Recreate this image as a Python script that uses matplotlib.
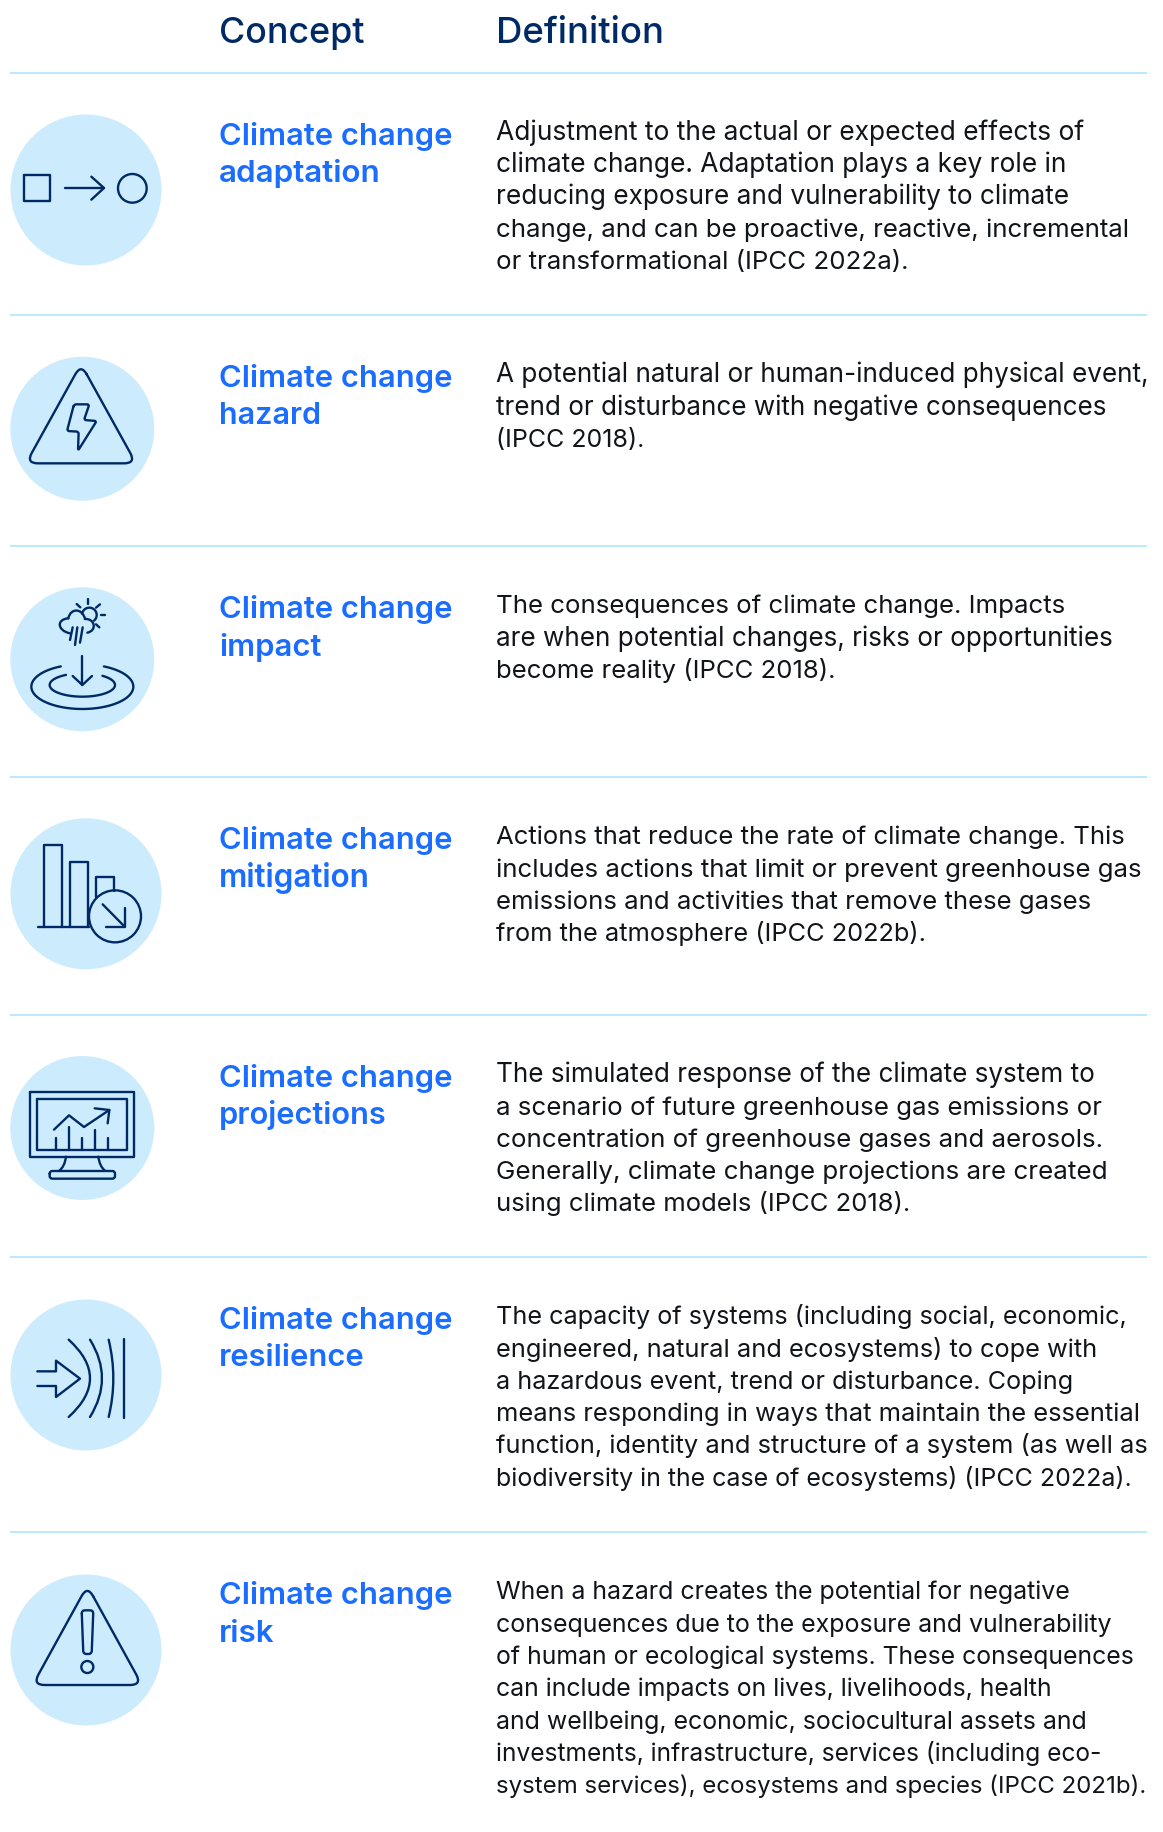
import numpy as np
import matplotlib
matplotlib.use("Agg")
import matplotlib.pyplot as plt
from matplotlib.path import Path
from matplotlib.patches import PathPatch, Circle

NAVY = "#002A65"
BLUE = "#1A6DFF"
PALE = "#CCECFD"
RULE = "#A8E4FB"
INK = "#111418"
FONT = "Inter"

headers = ["Concept", "Definition"]
concepts = [
    ["Climate change", "adaptation"],
    ["Climate change", "hazard"],
    ["Climate change", "impact"],
    ["Climate change", "mitigation"],
    ["Climate change", "projections"],
    ["Climate change", "resilience"],
    ["Climate change", "risk"],
]
definitions = [
    ["Adjustment to the actual or expected effects of",
     "climate change. Adaptation plays a key role in",
     "reducing exposure and vulnerability to climate",
     "change, and can be proactive, reactive, incremental",
     "or transformational (IPCC 2022a)."],
    ["A potential natural or human-induced physical event,",
     "trend or disturbance with negative consequences",
     "(IPCC 2018)."],
    ["The consequences of climate change. Impacts",
     "are when potential changes, risks or opportunities",
     "become reality (IPCC 2018)."],
    ["Actions that reduce the rate of climate change. This",
     "includes actions that limit or prevent greenhouse gas",
     "emissions and activities that remove these gases",
     "from the atmosphere (IPCC 2022b)."],
    ["The simulated response of the climate system to",
     "a scenario of future greenhouse gas emissions or",
     "concentration of greenhouse gases and aerosols.",
     "Generally, climate change projections are created",
     "using climate models (IPCC 2018)."],
    ["The capacity of systems (including social, economic,",
     "engineered, natural and ecosystems) to cope with",
     "a hazardous event, trend or disturbance. Coping",
     "means responding in ways that maintain the essential",
     "function, identity and structure of a system (as well as",
     "biodiversity in the case of ecosystems) (IPCC 2022a)."],
    ["When a hazard creates the potential for negative",
     "consequences due to the exposure and vulnerability",
     "of human or ecological systems. These consequences",
     "can include impacts on lives, livelihoods, health",
     "and wellbeing, economic, sociocultural assets and",
     "investments, infrastructure, services (including eco-",
     "system services), ecosystems and species (IPCC 2021b)."],
]
# right edges of the text lines (in 995-wide preview px)
def_right = [
    [927, 912, 913, 966, 777],
    [981, 945, 551],
    [912, 951, 715],
    [962, 977, 933, 792],
    [935, 942, 943, 946, 779],
    [963, 938, 917, 975, 981, 968],
    [916, 952, 969, 899, 930, 941, 981],
]
concept_right = [326, 275, 275, 317, 331, 312, 235]
header_right = [312, 568]

rule_y = [72.5, 315, 546, 777, 1015, 1257, 1532]
circle_x = [86, 82.3, 82.3, 86, 82.3, 86, 86]
circle_y = [190, 428.7, 659.3, 893.8, 1128, 1375, 1650]
circle_r = [75.5, 72, 72, 75.5, 72, 75.5, 75.5]

fig = plt.figure(figsize=(11.63, 18.32), dpi=100, facecolor="white")
ax = fig.add_axes([0, 0, 1, 1])
ax.set_xlim(0, 1163)
ax.set_ylim(1832, 0)
ax.axis("off")

LW = 1.7


class Z:
    """Draw in 3x-zoom crop coordinates with a vertical offset."""
    def __init__(self, oy):
        self.oy = oy

    def p(self, pts):
        a = np.asarray(pts, float)
        return np.c_[a[:, 0] / 3, self.oy + a[:, 1] / 3]

    def line(self, *pts):
        a = self.p(pts)
        ax.plot(a[:, 0], a[:, 1], color=NAVY, lw=LW, solid_capstyle="round",
                solid_joinstyle="round", zorder=4)

    def closed(self, *pts):
        self.line(*pts, pts[0])

    def circle(self, c, r):
        x, y = self.p([c])[0]
        ax.add_patch(Circle((x, y), r / 3, fc="none", ec=NAVY, lw=LW, zorder=4))

    def curve(self, *pts):
        a = self.p(pts)
        n = len(a) - 1
        code = Path.CURVE3 if n == 2 else Path.CURVE4
        codes = [Path.MOVETO] + [code] * n
        ax.add_patch(PathPatch(Path(a, codes), fc="none", ec=NAVY, lw=LW,
                               capstyle="round", joinstyle="round", zorder=4))

    def rounded(self, pts, r):
        a = self.p(pts)
        r = r / 3
        verts, codes = [], []
        n = len(a)
        for i in range(n):
            c, prev, nxt = a[i], a[i - 1], a[(i + 1) % n]
            u = (prev - c) / np.linalg.norm(prev - c)
            v = (nxt - c) / np.linalg.norm(nxt - c)
            verts += [c + u * r, c, c + v * r]
            codes += [Path.MOVETO if i == 0 else Path.LINETO, Path.CURVE3, Path.CURVE3]
        verts.append(verts[0])
        codes.append(Path.LINETO)
        ax.add_patch(PathPatch(Path(np.array(verts), codes), fc="none", ec=NAVY, lw=LW,
                               joinstyle="round", capstyle="round", zorder=4))

    def arc(self, c, rx, ry, t1, t2):
        t = np.radians(np.linspace(t1, t2, 80))
        self.line(*[(c[0] + rx * np.cos(a), c[1] + ry * np.sin(a)) for a in t])


def icon_adaptation():
    z = Z(90)
    z.closed((71, 255), (151, 255), (151, 333), (71, 333))
    z.line((196, 294), (312, 294))
    z.line((274, 260), (312, 294), (274, 329))
    z.circle((397, 295), 43)


def icon_hazard():
    z = Z(90)
    z.rounded([(243, 822), (78, 1120), (408, 1120)], 36)
    z.rounded([(222, 943), (268, 943), (252, 990), (290, 993), (234, 1082),
               (236, 1025), (201, 1023)], 7)


def icon_impact():
    z = Z(570)
    z.arc((268, 135), 22, 22, -170, 50)
    z.line((265, 88), (265, 102))
    z.line((300, 103), (288, 113))
    z.line((302, 136), (314, 136))
    z.line((288, 163), (298, 172))
    z.line((230, 102), (241, 112))
    z.curve((210, 190), (172, 182), (168, 148), (205, 145))
    z.curve((205, 145), (212, 112), (248, 115), (255, 147))
    z.curve((255, 147), (285, 145), (292, 182), (262, 188))
    z.line((218, 172), (210, 210))
    z.line((232, 172), (225, 225))
    z.line((248, 172), (240, 218))
    z.arc((247, 350), 153, 67, -65, 245)
    z.arc((247, 345), 98, 35, -52, 240)
    z.line((247, 258), (247, 345))
    z.line((218, 318), (247, 345), (276, 318))


def icon_mitigation():
    z = Z(570)
    z.line((133, 1070), (133, 826), (185, 826), (185, 1070))
    z.line((211, 1070), (211, 876), (263, 876), (263, 1070))
    z.line((289, 980), (289, 920), (341, 920), (341, 962))
    z.line((115, 1070), (268, 1070))
    z.circle((345, 1039), 78)
    z.line((308, 1003), (374, 1070))
    z.line((374, 1013), (374, 1070), (317, 1070))


def icon_projections():
    z = Z(1040)
    z.closed((91, 157), (401, 157), (401, 350), (91, 350))
    z.closed((111, 177), (381, 177), (381, 329), (111, 329))
    z.curve((198, 350), (194, 380), (178, 392))
    z.curve((295, 350), (299, 380), (315, 392))
    z.rounded([(149, 393), (345, 393), (345, 416), (149, 416)], 8)
    for x, top in zip((168, 207, 245, 284, 323), (293, 260, 293, 270, 293)):
        z.line((x, top), (x, 329))
    z.line((162, 269), (207, 226), (252, 261), (328, 210))
    z.line((284, 205), (328, 210), (323, 250))


def icon_resilience():
    z = Z(1040)
    z.line((112, 994), (168, 994), (168, 962), (240, 1016), (168, 1071), (168, 1038), (112, 1038))
    z.curve((206, 899), (334, 1015), (206, 1131))
    z.curve((270, 899), (342, 1015), (270, 1131))
    z.curve((326, 899), (354, 1015), (326, 1131))
    z.line((373, 897), (373, 1133))


def icon_risk():
    z = Z(1440)
    z.rounded([(262, 437), (98, 735), (426, 735)], 36)
    z.rounded([(245, 511), (280, 511), (275, 642), (250, 642)], 10)
    z.circle((262, 681), 18)


icons = [icon_adaptation, icon_hazard, icon_impact, icon_mitigation,
         icon_projections, icon_resilience, icon_risk]

for y in rule_y:
    ax.plot([10, 1147], [y, y], color=RULE, lw=1.1, solid_capstyle="butt", zorder=1)
for x, y, r, draw in zip(circle_x, circle_y, circle_r, icons):
    ax.add_patch(Circle((x, y), r, fc=PALE, ec="none", zorder=2))
    draw()

renderer = fig.canvas.get_renderer()
SCALE = 1163 / 995


def fitted(x, y, s, right, color, fs, weight):
    """Real text whose size is nudged so the line ends where the reference's does."""
    t = ax.text(x, y, s, color=color, fontsize=fs, family=FONT, weight=weight, va="baseline")
    bb = t.get_window_extent(renderer)
    t.set_fontsize(fs * (right * SCALE - bb.x0) / bb.width)
    return t


X_CONCEPT, X_DEF = 219, 496
HEAD_FS, CONCEPT_FS, DEF_FS = 26.0, 22.3, 18.95
fitted(X_CONCEPT, 42.7, headers[0], header_right[0], NAVY, HEAD_FS, "medium")
fitted(X_DEF, 42.7, headers[1], header_right[1], NAVY, HEAD_FS, "medium")
for top, con, lines, cr, dr in zip(rule_y, concepts, definitions, concept_right, def_right):
    ax.text(X_CONCEPT, top + 72.3, con[0], color=BLUE, fontsize=CONCEPT_FS,
            family=FONT, weight="semibold", va="baseline")
    fitted(X_CONCEPT, top + 72.3 + 37.2, con[1], cr, BLUE, CONCEPT_FS, "semibold")
    for i, (s, r) in enumerate(zip(lines, dr)):
        fitted(X_DEF, top + 67.3 + i * 32.3, s, r, INK, DEF_FS, "normal")

fig.savefig("out.png", dpi=100)
